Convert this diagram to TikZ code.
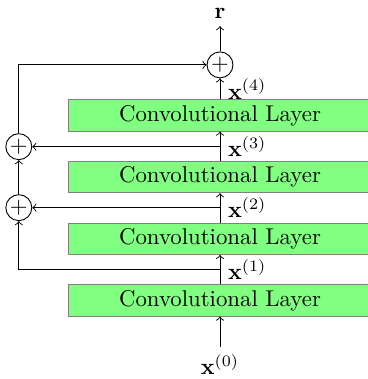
\documentclass[tikz,border=0pt]{standalone}
\usepackage{amsmath}
\usepackage{amsfonts}
\usepackage{tikz}

\begin{document}
\begin{tikzpicture}[>=to,
    layer/.style={draw=gray,fill=green!50,minimum width=4.66cm,minimum height=0.48cm,inner sep=0pt},
    sum/.style={draw,circle,inner sep=0pt,minimum size=0.4cm}]
    \useasboundingbox (-3.39,0) rectangle (2.27,5.84);

    % the four layers
    \node[layer] (L1) at (0,1.21) {Convolutional Layer};
    \node[layer] (L2) at (0,2.16) {Convolutional Layer};
    \node[layer] (L3) at (0,3.11) {Convolutional Layer};
    \node[layer] (L4) at (0,4.06) {Convolutional Layer};

    % sums
    \node[sum] (s1) at (-3.10,2.64) {$+$};
    \node[sum] (s2) at (-3.10,3.58) {$+$};
    \node[sum] (s3) at (0,4.84) {$+$};

    \node (x0) at (0,0.22) {\(\mathbf{x}^{(0)}\)};
    \node (r) at (0,5.64) {\(\mathbf{r}\)};

    % outputs of the layers
    \coordinate (b1) at (0,1.685);
    \coordinate (b2) at (0,2.64);
    \coordinate (b3) at (0,3.58);
    \coordinate (b4) at (0,4.47);
    \node[right] (x1) at (b1) {\(\mathbf{x}^{(1)}\)};
    \node[right] (x2) at (b2) {\(\mathbf{x}^{(2)}\)};
    \node[right] (x3) at (b3) {\(\mathbf{x}^{(3)}\)};
    \node[right] (x4) at (b4) {\(\mathbf{x}^{(4)}\)};

    \draw[->] (x0) -- (L1);
    \draw[->] (L1) -- (L2);
    \draw[->] (L2) -- (L3);
    \draw[->] (L3) -- (L4);
    \draw[->] (L4) -- (s3);
    \draw[->] (s3) -- (r);

    % skip connections
    \draw[->] (b1) -| (s1);
    \draw[->] (b2) -- (s1);
    \draw[->] (s1) -- (s2);
    \draw[->] (b3) -- (s2);
    \draw[->] (s2) |- (s3);
\end{tikzpicture}
\end{document}
